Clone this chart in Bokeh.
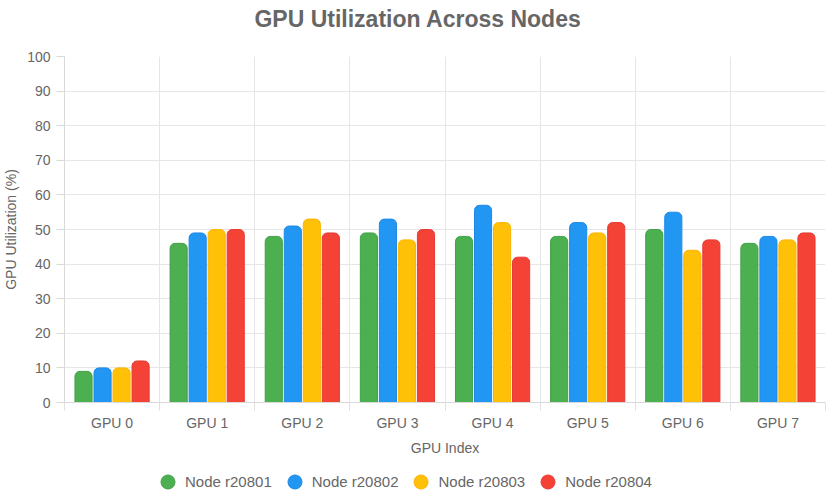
from bokeh.plotting import figure
from bokeh.models import (ColumnDataSource, Range1d, FixedTicker, Grid,
                          Legend, LegendItem, Label)
from bokeh.layouts import column
from bokeh.transform import dodge
from bokeh.embed import file_html
from bokeh.resources import INLINE

title_text = "GPU Utilization Across Nodes"
gpus = ["GPU 0", "GPU 1", "GPU 2", "GPU 3", "GPU 4", "GPU 5", "GPU 6", "GPU 7"]
nodes = ["Node r20801", "Node r20802", "Node r20803", "Node r20804"]
r20801 = [9, 46, 48, 49, 48, 48, 50, 46]
r20802 = [10, 49, 51, 53, 57, 52, 55, 48]
r20803 = [10, 50, 53, 47, 52, 49, 44, 47]
r20804 = [12, 50, 49, 50, 42, 52, 47, 49]
y_ticks = list(range(0, 101, 10))

series = [r20801, r20802, r20803, r20804]
fills = ["#4CAF50", "#2196F3", "#FFC107", "#F44336"]
edges = ["#43A047", "#1E88E5", "#FFB300", "#E53935"]
offsets = [-0.3, -0.1, 0.1, 0.3]

FONT = "Liberation Sans"
GREY = "#666666"

n = len(gpus)
centers = [i + 0.5 for i in range(n)]
bounds = list(range(0, n + 1))

# title strip
tf = figure(width=826, height=36, x_range=Range1d(0, 1), y_range=Range1d(0, 1),
            output_backend="svg", toolbar_location=None)
tf.axis.visible = False
tf.grid.visible = False
tf.outline_line_color = None
tf.min_border = 0
tf.add_layout(Label(x=0.5, y=0.5, x_offset=-27, text=title_text, text_align="center",
                    text_baseline="middle", text_font=FONT, text_font_size="23px",
                    text_font_style="bold", text_color=GREY))

p = figure(width=826, height=428, x_range=Range1d(0, n),
           y_range=Range1d(0, 100), output_backend="svg", toolbar_location=None)
p.min_border_left = 10
p.min_border_right = 1
p.min_border_top = 20
p.min_border_bottom = 62
p.outline_line_color = None

data = {"x": centers}
for i, s in enumerate(series):
    data[f"s{i}"] = s
src = ColumnDataSource(data)

for i in range(4):
    p.vbar(x=dodge("x", offsets[i]), top=f"s{i}", width=0.18, source=src,
           fill_color=fills[i], line_color=edges[i], line_width=1,
           border_radius=(5, 5, 0, 0))

# axes
p.yaxis.ticker = FixedTicker(ticks=y_ticks)
p.xaxis.ticker = FixedTicker(ticks=centers, minor_ticks=bounds)
p.xaxis.major_label_overrides = {c: g for c, g in zip(centers, gpus)}
p.yaxis.axis_label = "GPU Utilization (%)"
p.xaxis.axis_label = "GPU Index"
for ax in (p.xaxis, p.yaxis):
    ax.axis_label_text_font = FONT
    ax.axis_label_text_font_size = "14px"
    ax.axis_label_text_font_style = "normal"
    ax.axis_label_text_color = GREY
    ax.major_label_text_font = FONT
    ax.major_label_text_font_size = "14px"
    ax.major_label_text_color = GREY
    ax.axis_line_color = "#d9d9d9"
    ax.major_tick_line_color = "#d9d9d9"
    ax.minor_tick_line_color = None
p.yaxis.major_tick_out = 8
p.yaxis.major_tick_in = 0
p.yaxis.major_label_standoff = 6
p.xaxis.major_tick_out = 0
p.xaxis.major_tick_in = 0
p.xaxis.minor_tick_out = 8
p.xaxis.minor_tick_in = 0
p.xaxis.minor_tick_line_color = "#e0e0e0"
p.xaxis.major_label_standoff = 4
p.xaxis.axis_label_standoff = 6

p.ygrid.grid_line_color = "#e6e6e6"
p.xgrid.visible = False
vgrid = Grid(dimension=0, ticker=FixedTicker(ticks=bounds), grid_line_color="#e6e6e6")
p.add_layout(vgrid)

# legend strip
lf = figure(width=826, height=35, x_range=Range1d(0, 1), y_range=Range1d(0, 1),
            output_backend="svg", toolbar_location=None)
lf.axis.visible = False
lf.grid.visible = False
lf.outline_line_color = None
lf.min_border = 0
items = []
for i in range(4):
    r = lf.scatter(x=[-10], y=[-10], marker="circle", size=15, fill_color=fills[i], line_color=edges[i])
    items.append(LegendItem(label=nodes[i], renderers=[r]))
legend = Legend(items=items, orientation="horizontal", location=(86, 0),
                label_text_font=FONT, label_text_font_size="15px", label_text_color=GREY,
                border_line_color=None, background_fill_alpha=0,
                glyph_width=35, glyph_height=35, spacing=5,
                label_standoff=0, padding=0, margin=0)
lf.add_layout(legend, "center")

open("out.html", "w").write(file_html(column(tf, p, lf, spacing=0), INLINE))
